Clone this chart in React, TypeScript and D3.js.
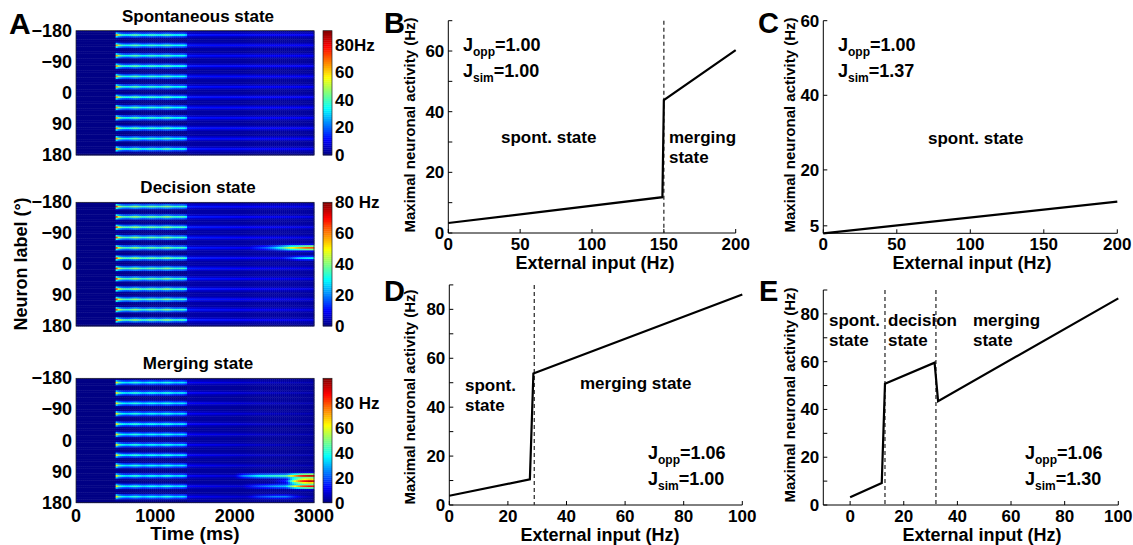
import React, { useEffect, useRef } from "react";
import * as d3 from "d3";

// ================= Panel A data (heat maps) =================
const timeTicks = [0, 1000, 2000, 3000];
const angleTicks = [-180, -90, 0, 90, 180];
const angleTickLabels = ["\u2212180", "\u221290", "0", "90", "180"];
const stripeAngles = [-167.5, -137.5, -107.5, -77.5, -47.5, -17.5, 12.5, 42.5, 72.5, 102.5, 132.5, 162.5];
const cueTimes = [500, 530, 580, 650, 750, 850, 950, 1050, 1150, 1250, 1350, 1400];
const cueRates = [75, 50, 38, 34, 42, 33, 39, 34, 41, 33, 36, 28];
const delayTimes = [1400, 1800, 2200, 2600, 3000];
const spontDelay = [13, 12, 12, 11, 11];
const decisionDelay = [12, 11, 10, 9, 8];
const mergingDelay = [12, 10, 8, 6, 5];
const delayBackground = [3, 3, 2.5, 2.5, 2.5];
const decisionBumpTimes = [2200, 2400, 2500, 2600, 2700, 2800, 2900, 3000];
const decisionBumpMain = [10, 18, 25, 35, 48, 55, 62, 64];
const decisionBumpSide = [0, 0, 5, 10, 15, 25, 28, 30];
const mergingBumpTimes = [2000, 2100, 2300, 2500, 2650, 2750, 2850, 2950, 3000];
const mergingBump102 = [8, 25, 38, 42, 45, 70, 88, 95, 90];
const mergingBump117 = [0, 0, 0, 5, 15, 60, 85, 95, 90];
const mergingBump132 = [0, 8, 20, 28, 32, 60, 80, 88, 85];
const mergingBump162 = [0, 5, 18, 25, 25, 15, 8, 5, 5];
const spontColorTicks = [0, 20, 40, 60, 80];
const decisionColorTicks = [0, 20, 40, 60, 80];
const mergingColorTicks = [0, 20, 40, 60, 80];
const colorMax = [90, 80, 100];

// ================= Panels B-E data =================
const inputB = [0, 149, 150, 200];
const activityB = [3.3, 11.8, 43.8, 60.3];
const dashB = [150];
const inputC = [0, 200];
const activityC = [3, 11.5];
const dashC: number[] = [];
const inputD = [0, 27.5, 28.7, 100];
const activityD = [3.8, 10.5, 53.8, 86.1];
const dashD = [29];
const inputE = [0, 11.8, 13, 31.5, 32.8, 100];
const activityE = [3.2, 9.2, 50.8, 59.6, 43.5, 86.5];
const dashE = [13, 32];

const FONT = "'Liberation Sans', Arial, Helvetica, sans-serif";

// MATLAB jet colour map via a d3 linear scale
function jetScale(max: number) {
  return d3
    .scaleLinear<string>()
    .domain([0, 0.125, 0.375, 0.625, 0.875, 1].map((f) => f * max))
    .range(["#000080", "#0000ff", "#00ffff", "#ffff00", "#ff0000", "#800000"])
    .interpolate(d3.interpolateRgb)
    .clamp(true);
}

function profile(times: number[], vals: number[]) {
  return d3.scaleLinear().domain(times).range(vals).clamp(true);
}

const cueScale = profile(cueTimes, cueRates);

type Bump = { angle: number; sigma: number; times: number[]; vals: number[] };

const stateBumps: Bump[][] = [
  [],
  [
    { angle: -47.5, sigma: 5, times: decisionBumpTimes, vals: decisionBumpMain },
    { angle: -17.5, sigma: 3.8, times: decisionBumpTimes, vals: decisionBumpSide },
  ],
  [
    { angle: 102.5, sigma: 4.5, times: mergingBumpTimes, vals: mergingBump102 },
    { angle: 117.5, sigma: 6, times: mergingBumpTimes, vals: mergingBump117 },
    { angle: 132.5, sigma: 4.5, times: mergingBumpTimes, vals: mergingBump132 },
    { angle: 162.5, sigma: 3.8, times: mergingBumpTimes, vals: mergingBump162 },
  ],
];
const stateDelay = [spontDelay, decisionDelay, mergingDelay];

function buildCells(state: number) {
  const dt = 25;
  const da = 5;
  const delayScale = profile(delayTimes, stateDelay[state]);
  const bgScale = profile(delayTimes, delayBackground);
  const bumps = stateBumps[state].map((b) => ({ ...b, sc: profile(b.times, b.vals) }));
  const cells: { t0: number; t1: number; a0: number; a1: number; v: number }[] = [];
  for (let t0 = 0; t0 < 3000; t0 += dt) {
    const t = t0 + dt / 2;
    for (let a0 = -180; a0 < 180; a0 += da) {
      const a = a0 + da / 2;
      let v = 0.5;
      if (t > 1400) v = Math.max(v, bgScale(t));
      for (const s of stripeAngles) {
        const d = a - s;
        const w = Math.exp((-d * d) / (2 * 4.2 * 4.2));
        if (t >= 500 && t <= 1400) v = Math.max(v, cueScale(t) * w);
        else if (t > 1400) v = Math.max(v, delayScale(t) * w);
      }
      for (const b of bumps) {
        if (t < b.times[0]) continue;
        const d = a - b.angle;
        const w = Math.exp((-d * d) / (2 * b.sigma * b.sigma));
        v = Math.max(v, b.sc(t) * w);
      }
      cells.push({ t0, t1: t0 + dt, a0, a1: a0 + da, v });
    }
  }
  return cells;
}

const HM_LEFT = 76;
const HM_RIGHT = 314;
const CB_LEFT = 323;
const CB_RIGHT = 332;
const maps = [
  { title: "Spontaneous state", top: 30.7, bottom: 155, ticks: spontColorTicks, unit: "Hz", sep: "" },
  { title: "Decision state", top: 202.3, bottom: 326, ticks: decisionColorTicks, unit: "Hz", sep: " " },
  { title: "Merging state", top: 378.3, bottom: 502.7, ticks: mergingColorTicks, unit: "Hz", sep: " " },
];

function HeatMaps() {
  const ref = useRef<SVGGElement>(null);
  useEffect(() => {
    const g = d3.select(ref.current);
    g.selectAll("*").remove();
    const x = d3.scaleLinear().domain([0, 3000]).range([HM_LEFT, HM_RIGHT]);
    maps.forEach((m, i) => {
      const y = d3.scaleLinear().domain([-180, 180]).range([m.top, m.bottom]);
      const color = jetScale(colorMax[i]);
      const cells = buildCells(i);
      const mg = g.append("g");
      mg.selectAll("rect")
        .data(cells)
        .join("rect")
        .attr("x", (d) => x(d.t0))
        .attr("y", (d) => y(d.a0))
        .attr("width", (d) => x(d.t1) - x(d.t0) + 0.4)
        .attr("height", (d) => y(d.a1) - y(d.a0) + 0.4)
        .attr("fill", (d) => color(d.v));
      mg.append("rect")
        .attr("x", HM_LEFT)
        .attr("y", m.top)
        .attr("width", HM_RIGHT - HM_LEFT)
        .attr("height", m.bottom - m.top)
        .attr("fill", "none")
        .attr("stroke", "#222")
        .attr("stroke-width", 0.7);
      // colour bar
      const cy = d3.scaleLinear().domain([0, colorMax[i]]).range([m.bottom, m.top]);
      const levels = d3.range(64).map((k) => (k / 64) * colorMax[i]);
      const step = colorMax[i] / 64;
      mg.append("g")
        .selectAll("rect")
        .data(levels)
        .join("rect")
        .attr("x", CB_LEFT)
        .attr("width", CB_RIGHT - CB_LEFT)
        .attr("y", (d) => cy(d + step))
        .attr("height", (d) => cy(d) - cy(d + step) + 0.4)
        .attr("fill", (d) => color(d + step / 2));
      mg.append("rect")
        .attr("x", CB_LEFT)
        .attr("y", m.top)
        .attr("width", CB_RIGHT - CB_LEFT)
        .attr("height", m.bottom - m.top)
        .attr("fill", "none")
        .attr("stroke", "#222")
        .attr("stroke-width", 0.7);
      mg.append("g")
        .selectAll("text")
        .data(m.ticks)
        .join("text")
        .attr("x", CB_RIGHT + 3)
        .attr("y", (d) => cy(d) + 6)
        .attr("font-size", 17)
        .attr("font-weight", "bold")
        .attr("font-family", FONT)
        .text((d, k) => (k === m.ticks.length - 1 ? `${d}${m.sep}${m.unit}` : `${d}`));
      // y tick labels
      mg.append("g")
        .selectAll("text")
        .data(angleTicks)
        .join("text")
        .attr("x", HM_LEFT - 4)
        .attr("y", (d) => y(d) + 6)
        .attr("text-anchor", "end")
        .attr("font-size", 18)
        .attr("font-weight", "bold")
        .attr("font-family", FONT)
        .text((d, k) => angleTickLabels[k]);
      mg.append("text")
        .attr("x", (HM_LEFT + HM_RIGHT) / 2 + 3)
        .attr("y", m.top - 9)
        .attr("text-anchor", "middle")
        .attr("font-size", 17)
        .attr("font-weight", "bold")
        .attr("font-family", FONT)
        .text(m.title);
      if (i === 2) {
        mg.append("g")
          .selectAll("text")
          .data(timeTicks)
          .join("text")
          .attr("x", (d) => x(d))
          .attr("y", m.bottom + 19)
          .attr("text-anchor", "middle")
          .attr("font-size", 18)
          .attr("font-weight", "bold")
          .attr("font-family", FONT)
          .text((d) => `${d}`);
        mg.append("text")
          .attr("x", (HM_LEFT + HM_RIGHT) / 2)
          .attr("y", m.bottom + 37)
          .attr("text-anchor", "middle")
          .attr("font-size", 19)
          .attr("font-weight", "bold")
          .attr("font-family", FONT)
          .text("Time (ms)");
      }
    });
  }, []);
  return <g ref={ref} />;
}

type Lbl = { text: string; x: number; y: number };
type PanelCfg = {
  letter: string;
  lx: number;
  ly: number;
  x0: number;
  x1: number;
  yTop: number;
  yBot: number;
  xDomain: [number, number];
  yDomain: [number, number];
  xTicks: number[];
  yTicks: number[];
  yMinor: number[];
  xs: number[];
  ys: number[];
  dashes: number[];
  labels: Lbl[];
  j: { opp: string; sim: string; x: number; y: number };
  ylabelX: number;
  ylabelY: number;
  xlabelX: number;
};

const panels: PanelCfg[] = [
  {
    letter: "B", lx: 384, ly: 33,
    x0: 448.3, x1: 735.7, yTop: 20.7, yBot: 233,
    xDomain: [0, 200], yDomain: [0, 70],
    xTicks: [0, 50, 100, 150, 200], yTicks: [0, 20, 40, 60], yMinor: [10, 30, 50, 70],
    xs: inputB, ys: activityB, dashes: dashB,
    labels: [
      { text: "spont. state", x: 501, y: 143 },
      { text: "merging", x: 669, y: 143 },
      { text: "state", x: 669, y: 163 },
    ],
    j: { opp: "1.00", sim: "1.00", x: 463, y: 51 },
    ylabelX: 415, ylabelY: 125, xlabelX: 595,
  },
  {
    letter: "C", lx: 758, ly: 33,
    x0: 823.3, x1: 1117.3, yTop: 20.7, yBot: 233.3,
    xDomain: [0, 200], yDomain: [3, 60],
    xTicks: [0, 50, 100, 150, 200], yTicks: [5, 20, 40, 60], yMinor: [],
    xs: inputC, ys: activityC, dashes: dashC,
    labels: [{ text: "spont. state", x: 928, y: 144 }],
    j: { opp: "1.00", sim: "1.37", x: 838, y: 51 },
    ylabelX: 795, ylabelY: 125, xlabelX: 972,
  },
  {
    letter: "D", lx: 384, ly: 301,
    x0: 449.3, x1: 742.3, yTop: 284.9, yBot: 505,
    xDomain: [0, 100], yDomain: [0, 90],
    xTicks: [0, 20, 40, 60, 80, 100], yTicks: [0, 20, 40, 60, 80], yMinor: [10, 30, 50, 70, 90],
    xs: inputD, ys: activityD, dashes: dashD,
    labels: [
      { text: "spont.", x: 465, y: 391 },
      { text: "state", x: 465, y: 411 },
      { text: "merging state", x: 580, y: 389 },
    ],
    j: { opp: "1.06", sim: "1.00", x: 648, y: 459 },
    ylabelX: 415, ylabelY: 397, xlabelX: 600,
  },
  {
    letter: "E", lx: 759, ly: 301,
    x0: 823.3, x1: 1118.3, yTop: 290, yBot: 505,
    xDomain: [-10, 100], yDomain: [0, 90],
    xTicks: [0, 20, 40, 60, 80, 100], yTicks: [0, 20, 40, 60, 80], yMinor: [10, 30, 50, 70, 90],
    xs: inputE, ys: activityE, dashes: dashE,
    labels: [
      { text: "spont.", x: 829, y: 326 },
      { text: "state", x: 829, y: 346 },
      { text: "decision", x: 888, y: 326 },
      { text: "state", x: 888, y: 346 },
      { text: "merging", x: 973, y: 326 },
      { text: "state", x: 973, y: 346 },
    ],
    j: { opp: "1.06", sim: "1.30", x: 1025, y: 459 },
    ylabelX: 795, ylabelY: 395, xlabelX: 982,
  },
];

function LinePanel({ p }: { p: PanelCfg }) {
  const x = d3.scaleLinear().domain(p.xDomain).range([p.x0, p.x1]);
  const y = d3.scaleLinear().domain(p.yDomain).range([p.yBot, p.yTop]);
  const pts = p.xs.map((v, i) => [v, p.ys[i]] as [number, number]);
  const line = d3.line<[number, number]>().x((d) => x(d[0])).y((d) => y(d[1]));
  const tf = { fontFamily: FONT, fontWeight: "bold" as const };
  return (
    <g>
      <text x={p.lx} y={p.ly} fontSize={29} {...tf}>{p.letter}</text>
      {/* axes */}
      <line x1={p.x0} x2={p.x0} y1={p.yTop} y2={p.yBot} stroke="#000" strokeWidth={1} />
      <line x1={p.x0} x2={p.x1} y1={p.yBot} y2={p.yBot} stroke="#000" strokeWidth={1} />
      {p.xTicks.map((t) => (
        <g key={"xt" + t}>
          <line x1={x(t)} x2={x(t)} y1={p.yBot} y2={p.yBot - 4} stroke="#000" />
          <text x={x(t)} y={p.yBot + 17} textAnchor="middle" fontSize={17} {...tf}>{t}</text>
        </g>
      ))}
      {p.yTicks.map((t) => (
        <g key={"yt" + t}>
          <line x1={p.x0} x2={p.x0 + 4} y1={y(t)} y2={y(t)} stroke="#000" />
          <text x={p.x0 - 4} y={y(t) + 6} textAnchor="end" fontSize={17} {...tf}>{t}</text>
        </g>
      ))}
      {p.yMinor.map((t) => (
        <line key={"ym" + t} x1={p.x0} x2={p.x0 + 4} y1={y(t)} y2={y(t)} stroke="#000" />
      ))}
      {p.dashes.map((d) => (
        <line key={"d" + d} x1={x(d)} x2={x(d)} y1={p.yTop} y2={p.yBot} stroke="#333" strokeWidth={1.3} strokeDasharray="4,3" />
      ))}
      <path d={line(pts) || ""} fill="none" stroke="#000" strokeWidth={2.2} strokeLinejoin="miter" />
      <text x={p.xlabelX} y={p.yBot + 36} textAnchor="middle" fontSize={18} {...tf}>External input (Hz)</text>
      <text
        transform={`translate(${p.ylabelX},${p.ylabelY}) rotate(-90)`}
        textAnchor="middle"
        fontSize={15}
        {...tf}
      >
        Maximal neuronal activity (Hz)
      </text>
      {p.labels.map((l, i) => (
        <text key={"l" + i} x={l.x} y={l.y} fontSize={17} {...tf}>{l.text}</text>
      ))}
      <text x={p.j.x} y={p.j.y} fontSize={18} {...tf}>
        J<tspan fontSize={12} dy={5}>opp</tspan>
        <tspan dy={-5}>={p.j.opp}</tspan>
      </text>
      <text x={p.j.x} y={p.j.y + 26} fontSize={18} {...tf}>
        J<tspan fontSize={12} dy={5}>sim</tspan>
        <tspan dy={-5}>={p.j.sim}</tspan>
      </text>
    </g>
  );
}

export default function App() {
  return (
    <svg
      width={1133}
      height={545}
      viewBox="0 0 1133 545"
      style={{ position: "absolute", left: 0, top: 0, background: "#fff" }}
    >
      <rect width={1133} height={545} fill="#fff" />
      <text x={9} y={34} fontSize={30} fontFamily={FONT} fontWeight="bold">A</text>
      <HeatMaps />
      <text
        transform={`translate(27,264) rotate(-90)`}
        textAnchor="middle"
        fontSize={18}
        fontFamily={FONT}
        fontWeight="bold"
      >
        Neuron label (°)
      </text>
      {panels.map((p) => (
        <LinePanel key={p.letter} p={p} />
      ))}
    </svg>
  );
}
